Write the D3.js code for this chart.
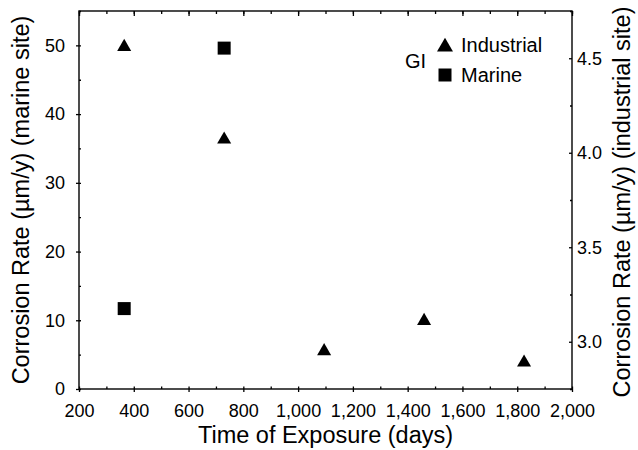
<!DOCTYPE html>
<html lang="en">
<head>
<meta charset="UTF-8">
<title>Corrosion Rate vs Time of Exposure</title>
<style>
  body { margin: 0; background: #fff; }
  svg text { font-family: "Liberation Sans", Arial, Helvetica, sans-serif; fill: #000; }
  .axis path.domain { display: none; }
  .axis line { stroke: #000; stroke-width: 1.3; }
</style>
</head>
<body>
<script src="https://d3js.org/d3.v7.min.js"></script>
<script>
// data
var industrialDays = [365, 730, 1095, 1460, 1825];
var industrialRate = [4.56, 4.07, 2.95, 3.11, 2.89];   // right axis (industrial site)
var marineDays = [365, 730];
var marineRate = [11.7, 49.6];                          // left axis (marine site)

var xTicks = [200, 400, 600, 800, 1000, 1200, 1400, 1600, 1800, 2000];
var xMinorTicks = d3.range(200, 2001, 100);
var leftTicks = [0, 10, 20, 30, 40, 50];
var leftMinorTicks = d3.range(0, 56, 5);
var rightTicks = [3.0, 3.5, 4.0, 4.5];
var rightMinorTicks = [2.75, 3.25, 3.75, 4.25, 4.75];

var width = 638, height = 450;
// plot box (note: "top" is reserved on window, so use other names)
var pLeft = 79, pRight = 572, pTop = 11, pBottom = 389;

var svg = d3.select("body").append("svg")
    .attr("width", width)
    .attr("height", height);

var x = d3.scaleLinear().domain([200, 2000]).range([pLeft, pRight]);
var yL = d3.scaleLinear().domain([0, 55]).range([pBottom, pTop]);
var yR = d3.scaleLinear().domain([2.75, 4.75]).range([pBottom, pTop]);

// frame
svg.append("rect")
    .attr("x", pLeft).attr("y", pTop)
    .attr("width", pRight - pLeft).attr("height", pBottom - pTop)
    .attr("fill", "none").attr("stroke", "#000").attr("stroke-width", 1.4);

// bottom axis: labelled ticks poke out, all ticks poke in a little
svg.append("g").attr("class", "axis")
    .attr("transform", "translate(0," + pBottom + ")")
    .call(d3.axisBottom(x).tickValues(xTicks).tickSize(3).tickPadding(12)
        .tickFormat(d3.format(",")))
    .selectAll("text").style("font-size", "18px");
svg.append("g").attr("class", "axis")
    .attr("transform", "translate(0," + pBottom + ")")
    .call(d3.axisBottom(x).tickValues(xMinorTicks).tickSize(-2.5).tickFormat(""));

// top axis, ticks inside
svg.append("g").attr("class", "axis")
    .attr("transform", "translate(0," + pTop + ")")
    .call(d3.axisTop(x).tickValues(xTicks).tickSize(-5).tickFormat(""));
svg.append("g").attr("class", "axis")
    .attr("transform", "translate(0," + pTop + ")")
    .call(d3.axisTop(x).tickValues(xMinorTicks).tickSize(-3).tickFormat(""));

// left axis (marine)
svg.append("g").attr("class", "axis")
    .attr("transform", "translate(" + pLeft + ",0)")
    .call(d3.axisLeft(yL).tickValues(leftTicks).tickSize(3).tickPadding(11))
    .selectAll("text").style("font-size", "18px");
svg.append("g").attr("class", "axis")
    .attr("transform", "translate(" + pLeft + ",0)")
    .call(d3.axisLeft(yL).tickValues(leftMinorTicks).tickSize(-2).tickFormat(""));

// right axis (industrial), ticks inside
svg.append("g").attr("class", "axis")
    .attr("transform", "translate(" + pRight + ",0)")
    .call(d3.axisRight(yR).tickValues(rightTicks).tickSize(-3).tickPadding(5)
        .tickFormat(d3.format(".1f")))
    .selectAll("text").style("font-size", "18px");
svg.append("g").attr("class", "axis")
    .attr("transform", "translate(" + pRight + ",0)")
    .call(d3.axisRight(yR).tickValues(rightMinorTicks).tickSize(-2).tickFormat(""));

// axis titles
svg.append("text")
    .attr("x", (pLeft + pRight) / 2).attr("y", 443)
    .attr("text-anchor", "middle")
    .style("font-size", "23.5px")
    .text("Time of Exposure (days)");

svg.append("text")
    .attr("transform", "translate(29,200) rotate(-90)")
    .attr("text-anchor", "middle")
    .style("font-size", "23.5px")
    .text("Corrosion Rate (\u00b5m/y) (marine site)");

svg.append("text")
    .attr("transform", "translate(630,202) rotate(-90)")
    .attr("text-anchor", "middle")
    .style("font-size", "23.5px")
    .text("Corrosion Rate (\u00b5m/y) (industrial site)");

// markers
var tri = d3.symbol().type(d3.symbolTriangle).size(85);
var sq = d3.symbol().type(d3.symbolSquare).size(169);

svg.selectAll("path.industrial")
    .data(industrialDays)
    .enter().append("path")
    .attr("class", "industrial")
    .attr("d", tri)
    .attr("transform", function(d, i) { return "translate(" + x(d) + "," + yR(industrialRate[i]) + ")"; })
    .attr("fill", "#000");

svg.selectAll("path.marine")
    .data(marineDays)
    .enter().append("path")
    .attr("class", "marine")
    .attr("d", sq)
    .attr("transform", function(d, i) { return "translate(" + x(d) + "," + yL(marineRate[i]) + ")"; })
    .attr("fill", "#000");

// legend
svg.append("text").attr("x", 405).attr("y", 68).style("font-size", "20px").text("GI");
svg.append("path")
    .attr("d", d3.symbol().type(d3.symbolTriangle).size(110))
    .attr("transform", "translate(445,47)").attr("fill", "#000");
svg.append("text").attr("x", 461).attr("y", 52).style("font-size", "20px").text("Industrial");
svg.append("path")
    .attr("d", sq)
    .attr("transform", "translate(445,75)").attr("fill", "#000");
svg.append("text").attr("x", 461).attr("y", 82).style("font-size", "20px").text("Marine");
</script>
</body>
</html>
